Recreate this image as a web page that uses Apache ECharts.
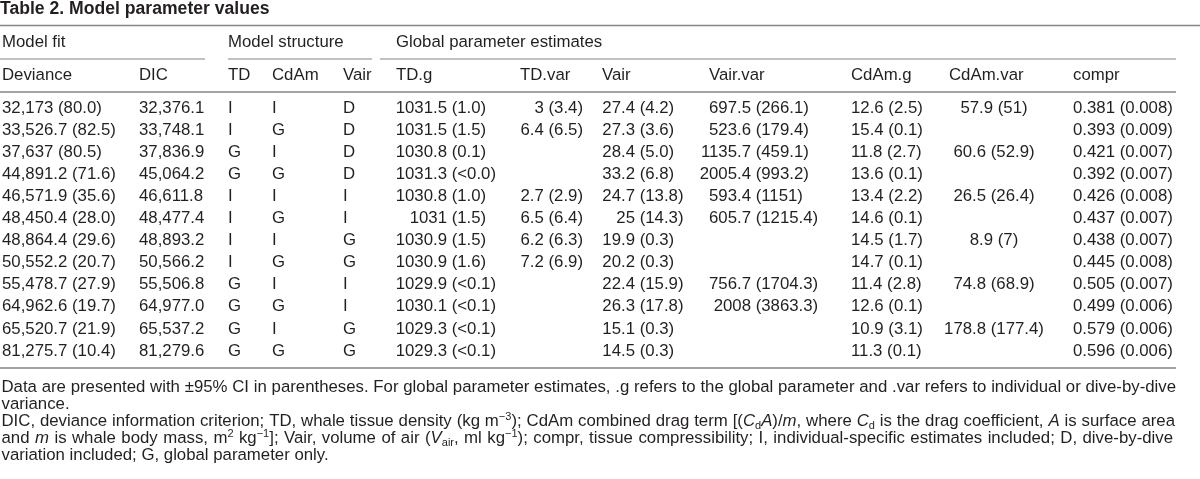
<!DOCTYPE html>
<html><head><meta charset="utf-8">
<script src="https://cdn.jsdelivr.net/npm/echarts@6/dist/echarts.min.js"></script>
<style>html,body{margin:0;padding:0;background:#fff}#c{width:1200px;height:479px}</style>
</head><body><div id="c"></div>
<script>
// ---- data ----
var rowIds = ['1','2','3','4','5','6','7','8','9','10','11','12'];
var deviance = ['32,173 (80.0)','33,526.7 (82.5)','37,637 (80.5)','44,891.2 (71.6)','46,571.9 (35.6)','48,450.4 (28.0)','48,864.4 (29.6)','50,552.2 (20.7)','55,478.7 (27.9)','64,962.6 (19.7)','65,520.7 (21.9)','81,275.7 (10.4)'];
var dic = ['32,376.1','33,748.1','37,836.9','45,064.2','46,611.8','48,477.4','48,893.2','50,566.2','55,506.8','64,977.0','65,537.2','81,279.6'];
var structTD = ['I','I','G','G','I','I','I','I','G','G','G','G'];
var structCdAm = ['I','G','I','G','I','G','I','G','I','G','I','G'];
var structVair = ['D','D','D','D','I','I','G','G','I','I','G','G'];
var tdG = ['1031.5 (1.0)','1031.5 (1.5)','1030.8 (0.1)','1031.3 (<0.0)','1030.8 (1.0)','1031 (1.5)','1030.9 (1.5)','1030.9 (1.6)','1029.9 (<0.1)','1030.1 (<0.1)','1029.3 (<0.1)','1029.3 (<0.1)'];
var tdVar = ['3 (3.4)','6.4 (6.5)','','','2.7 (2.9)','6.5 (6.4)','6.2 (6.3)','7.2 (6.9)','','','',''];
var vair = ['27.4 (4.2)','27.3 (3.6)','28.4 (5.0)','33.2 (6.8)','24.7 (13.8)','25 (14.3)','19.9 (0.3)','20.2 (0.3)','22.4 (15.9)','26.3 (17.8)','15.1 (0.3)','14.5 (0.3)'];
var vairVar = ['697.5 (266.1)','523.6 (179.4)','1135.7 (459.1)','2005.4 (993.2)','593.4 (1151)','605.7 (1215.4)','','','756.7 (1704.3)','2008 (3863.3)','',''];
var cdamG = ['12.6 (2.5)','15.4 (0.1)','11.8 (2.7)','13.6 (0.1)','13.4 (2.2)','14.6 (0.1)','14.5 (1.7)','14.7 (0.1)','11.4 (2.8)','12.6 (0.1)','10.9 (3.1)','11.3 (0.1)'];
var cdamVar = ['57.9 (51)','','60.6 (52.9)','','26.5 (26.4)','','8.9 (7)','','74.8 (68.9)','','178.8 (177.4)',''];
var compr = ['0.381 (0.008)','0.393 (0.009)','0.421 (0.007)','0.392 (0.007)','0.426 (0.008)','0.437 (0.007)','0.438 (0.007)','0.445 (0.008)','0.505 (0.007)','0.499 (0.006)','0.579 (0.006)','0.596 (0.006)'];
var columnHeaders = ['Deviance','DIC','TD','CdAm','Vair','TD.g','TD.var','Vair','Vair.var','CdAm.g','CdAm.var','compr'];
var groupHeaders = ['Model fit','Model structure','Global parameter estimates'];
var tableTitle = 'Table 2. Model parameter values';
var footLines = [
  [['n','Data are presented with ±95% CI in parentheses. For global parameter estimates, .g refers to the global parameter and .var refers to individual or dive-by-dive']],
  [['n','variance.']],
  [['n','DIC, deviance information criterion; TD, whale tissue density (kg m'],['sup','−3'],['n','); CdAm combined drag term [('],['i','C'],['sub','d'],['i','A'],['n',')/'],['i','m'],['n',', where '],['i','C'],['sub','d'],['n',' is the drag coefficient, '],['i','A'],['n',' is surface area']],
  [['n','and '],['i','m'],['n',' is whale body mass, m'],['sup','2'],['n',' kg'],['sup','−1'],['n','];  Vair, volume of air ('],['i','V'],['sub','air'],['n',', ml kg'],['sup','−1'],['n','); compr, tissue compressibility; I, individual-specific estimates included; D, dive-by-dive']],
  [['n','variation included; G, global parameter only.']]
];

// ---- layout ----
var FONT = '"Liberation Sans", Arial, Helvetica, sans-serif';
var FS = 16.8;
var SUPFS = 11;
var TXT = '#231f20';
var RULE = '#858585';
var columns = [deviance, dic, structTD, structCdAm, structVair, tdG, tdVar, vair, vairVar, cdamG, cdamVar, compr];
var colLayout = [
  {mode:'left', x:2}, {mode:'left', x:139}, {mode:'left', x:228}, {mode:'left', x:272}, {mode:'left', x:343},
  {mode:'split', x:447}, {mode:'right', x:583}, {mode:'split', x:635}, {mode:'split', x:751},
  {mode:'left', x:851}, {mode:'center', x:994}, {mode:'left', x:1073}
];
var headerX = [2,139,228,272,343,396,520,602,709,851,949,1073];
var groupX = [2,228,396];
// footnote line layout: y, justified right edge (null = ragged)
var footLayout = [
  {y:387, right:1176},
  {y:404.5, right:null},
  {y:421.5, right:1175},
  {y:438.5, right:1173},
  {y:455.5, right:null}
];

var cells = [];
columns.forEach(function(col, ci){
  col.forEach(function(v, ri){ if (v !== '') cells.push([ci, ri, v]); });
});

function txt(x, y, s, align){
  return {type:'text', x:x, y:y, style:{text:s, fill:TXT, font: FS+'px '+FONT, textAlign:align||'left', textVerticalAlign:'middle'}};
}

var rich = {
  n:{fontSize:FS, fontFamily:FONT, color:TXT, lineHeight:20},
  i:{fontSize:FS, fontFamily:FONT, color:TXT, fontStyle:'italic', lineHeight:20},
  sup:{fontSize:SUPFS, fontFamily:FONT, color:TXT, verticalAlign:'top', lineHeight:11},
  sub:{fontSize:SUPFS, fontFamily:FONT, color:TXT, verticalAlign:'bottom', lineHeight:11}
};
var fontOf = {
  n: FS+'px '+FONT, i: 'italic '+FS+'px '+FONT, sup: SUPFS+'px '+FONT, sub: SUPFS+'px '+FONT
};
var mctx = document.createElement('canvas').getContext('2d');
function measure(segs){
  var w = 0;
  segs.forEach(function(sg){ mctx.font = fontOf[sg[0]]; w += mctx.measureText(sg[1]).width; });
  return w;
}
function splitWords(line){
  var words = [[]];
  line.forEach(function(sg){
    var parts = sg[1].split(/ +/);
    parts.forEach(function(p, k){
      if (k > 0) words.push([]);
      if (p !== '') words[words.length-1].push([sg[0], p]);
    });
  });
  return words.filter(function(w){ return w.length; });
}
function richStr(segs){
  return segs.map(function(sg){ return '{'+sg[0]+'|'+sg[1]+'}'; }).join('');
}

var graphics = [];
function line(x1,y,x2,w){ graphics.push({type:'line', shape:{x1:x1,y1:y,x2:x2,y2:y}, style:{stroke:RULE, lineWidth:w||1.5}}); }
line(0, 25.5, 1200);
line(0, 59, 205, 1.2); line(228, 59, 372, 1.2); line(380, 59, 1176, 1.2);
line(0, 92, 1176);
line(0, 368, 1176);
groupHeaders.forEach(function(g, i){ graphics.push(txt(groupX[i], 42, g)); });
columnHeaders.forEach(function(h, i){ graphics.push(txt(headerX[i], 75, h)); });
graphics.push({type:'text', x:0, y:9, style:{text:tableTitle, fill:TXT, font:'bold 17.6px '+FONT, textVerticalAlign:'middle'}});

var X0 = 1.5;
footLines.forEach(function(ln, li){
  var L = footLayout[li];
  var words = splitWords(ln);
  var widths = words.map(measure);
  var total = widths.reduce(function(a,b){return a+b;}, 0);
  mctx.font = fontOf.n;
  var gap = mctx.measureText(' ').width;
  if (L.right !== null && words.length > 1) gap = ((L.right - X0) - total) / (words.length - 1);
  var children = [], cx = 0;
  words.forEach(function(w, wi){
    children.push({type:'text', x:cx, y:0, style:{text:richStr(w), rich:rich, fill:TXT, font:fontOf.n, textVerticalAlign:'middle'}});
    cx += widths[wi] + gap;
  });
  graphics.push({type:'group', x:X0, y:L.y, children:children});
});

var chart = echarts.init(document.getElementById('c'), null, {renderer:'canvas'});
chart.setOption({
  animation:false,
  backgroundColor:'#fff',
  grid:{left:0, right:0, top:97.3, bottom:117},
  xAxis:{type:'value', min:0, max:1200, show:false},
  yAxis:{type:'category', data:rowIds, inverse:true, show:false},
  graphic:graphics,
  series:[{
    type:'custom',
    data:cells,
    encode:{x:0, y:1},
    renderItem:function(params, api){
      var ci = api.value(0);
      var y = api.coord([0, api.value(1)])[1];
      var s = cells[params.dataIndex][2];
      var L = colLayout[ci];
      if (L.mode === 'split') {
        var k = s.indexOf(' (');
        return {type:'group', children:[
          txt(L.x, y, s.slice(0,k), 'right'),
          txt(L.x + FS*0.278, y, s.slice(k+1), 'left')
        ]};
      }
      return txt(L.x, y, s, L.mode);
    }
  }]
});
</script></body></html>
